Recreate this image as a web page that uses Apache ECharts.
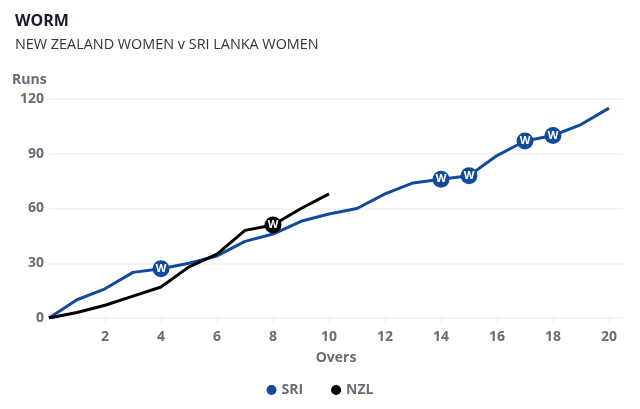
<!DOCTYPE html>
<html>
<head>
<meta charset="utf-8">
<script src="https://cdn.jsdelivr.net/npm/echarts@6/dist/echarts.min.js"></script>
<style>html,body{margin:0;padding:0;background:#fff}#c{width:640px;height:409px}</style>
</head>
<body>
<div id="c"></div>
<script>
const overs = [0,1,2,3,4,5,6,7,8,9,10,11,12,13,14,15,16,17,18,19,20];
const sriRuns = [0,10,16,25,27,30,34,42,46,53,57,60,68,74,76,78,89,97,100,106,115];
const nzlRuns = [0,3,7,12,17,28,35,48,51,60,68];
const sriWickets = [4,14,15,17,18];
const nzlWickets = [8];
const xTickLabels = [2,4,6,8,10,12,14,16,18,20];
const yTicks = [0,30,60,90,120];

const SRI_COLOR = '#114c9c';
const NZL_COLOR = '#000000';
const FONT = 'Open Sans';
const GRAY = '#6b6b78';

const sriData = sriRuns.map((r,i)=>[overs[i], r]);
const nzlData = nzlRuns.map((r,i)=>[overs[i], r]);
const sriW = sriWickets.map(o=>[o, sriRuns[overs.indexOf(o)]]);
const nzlW = nzlWickets.map(o=>[o, nzlRuns[overs.indexOf(o)]]);

function wicketSeries(name, data, color){
  return {
    name: name, type: 'scatter', data: data, symbol: 'circle', symbolSize: 17, z: 5,
    itemStyle: {color: color, opacity: 1},
    label: {show: true, position: 'inside', formatter: 'W', color: '#fff', fontWeight: 'bold', fontSize: 11, fontFamily: FONT},
    emphasis: {disabled: true}
  };
}

const chart = echarts.init(document.getElementById('c'), null, {renderer: 'canvas'});
chart.setOption({
  animation: false,
  textStyle: {fontFamily: FONT},
  title: [
    {text: 'WORM', left: 10, top: 8, padding: 5, textStyle: {fontSize: 16, fontWeight: 'bold', color: '#1a1a2e', fontFamily: FONT}},
    {text: 'NEW ZEALAND WOMEN v SRI LANKA WOMEN', left: 10, top: 33, padding: 5, textStyle: {fontSize: 14.4, fontWeight: 'normal', color: '#33333d', fontFamily: FONT}},
    {text: 'Runs', left: 7, top: 68, padding: 5, textStyle: {fontSize: 14, fontWeight: 'bold', color: GRAY, fontFamily: FONT}}
  ],
  grid: {left: 49, right: 17, top: 99, bottom: 91, containLabel: false},
  legend: {
    data: [{name: 'SRI', icon: 'circle'}, {name: 'NZL', icon: 'circle'}],
    bottom: 7, left: 'center', itemWidth: 10, itemHeight: 10, itemGap: 28,
    textStyle: {fontSize: 14, fontWeight: 'bold', color: GRAY, fontFamily: FONT}
  },
  xAxis: {
    type: 'value', min: 0, max: 20.5, interval: 2,
    name: 'Overs', nameLocation: 'middle', nameGap: 33,
    nameTextStyle: {fontSize: 14, fontWeight: 'bold', color: GRAY, fontFamily: FONT},
    axisLine: {show: false},
    axisTick: {show: true, customValues: xTickLabels, length: 5, lineStyle: {color: '#e3e3e8'}},
    axisLabel: {customValues: xTickLabels, margin: 12, fontSize: 14, fontWeight: 'bold', color: GRAY, fontFamily: FONT},
    splitLine: {show: false}
  },
  yAxis: {
    type: 'value', min: 0, max: 120, interval: 30,
    axisLine: {show: false}, axisTick: {show: false},
    axisLabel: {margin: 5, fontSize: 14, fontWeight: 'bold', color: GRAY, fontFamily: FONT, customValues: yTicks},
    splitLine: {show: true, lineStyle: {color: '#efeff3', width: 1.5}}
  },
  series: [
    {name: 'SRI', type: 'line', data: sriData, showSymbol: false, color: SRI_COLOR,
     lineStyle: {width: 3, color: SRI_COLOR, join: 'round'}, z: 3},
    {name: 'NZL', type: 'line', data: nzlData, showSymbol: false, color: NZL_COLOR,
     lineStyle: {width: 3, color: NZL_COLOR, join: 'round'}, z: 4},
    wicketSeries('SRI wickets', sriW, SRI_COLOR),
    wicketSeries('NZL wickets', nzlW, NZL_COLOR)
  ]
});
</script>
</body>
</html>
